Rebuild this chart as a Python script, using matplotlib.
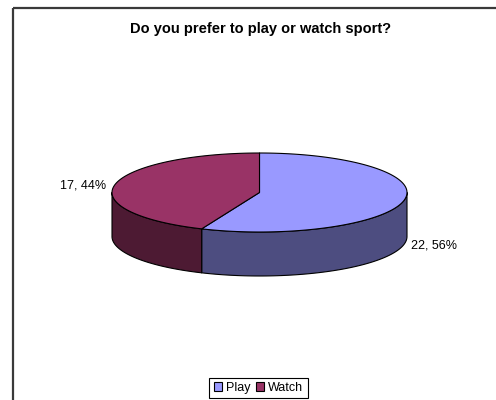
import numpy as np
import matplotlib.pyplot as plt
from matplotlib.patches import Polygon, Patch

plt.rcParams['font.family'] = ['Liberation Sans', 'DejaVu Sans']

# survey answers
labels = ['Play', 'Watch']
counts = [22, 17]
top_cols = ['#9999FF', '#993366']
side_cols = ['#4D4D80', '#4D1A33']

title = 'Do you prefer to play or watch sport?'

W, H = 496, 400
fig = plt.figure(figsize=(W / 100, H / 100), dpi=100)
ax = fig.add_axes([0, 0, 1, 1])
ax.set_xlim(0, W)
ax.set_ylim(H, 0)
ax.axis('off')

# chart frame (only top and left edges fall inside the image)
ax.plot([13, W + 5], [8, 8], color='#3a3a3a', lw=1.6, solid_capstyle='butt')
ax.plot([13, 13], [8, H + 5], color='#3a3a3a', lw=1.6, solid_capstyle='butt')

ax.text(261, 29, title, ha='center', va='center', fontsize=10.5, fontweight='bold')

# 3d pie geometry in pixels
cx, cy = 259.5, 192.5
a, b = 147.5, 39.5
depth = 44

def pt(theta_deg, dy=0):
    t = np.radians(theta_deg)
    return cx + a * np.cos(t), cy - b * np.sin(t) + dy

fracs = np.array(counts) / sum(counts)
# slices run clockwise from 12 o'clock
starts = 90 - np.concatenate([[0], np.cumsum(fracs)[:-1]]) * 360
ends = starts - fracs * 360

edge = dict(edgecolor='black', linewidth=0.8, joinstyle='round')

# side walls: only the front half of the rim (180..360 deg) is visible
for s, e, sc in zip(starts, ends, side_cols):
    lo, hi = e % 360, s % 360
    if hi <= lo:
        hi += 360
    lo2, hi2 = max(lo, 180), min(hi, 360)
    if lo2 >= hi2:
        lo2, hi2 = max(lo - 360, 180), min(hi - 360, 360)
        if lo2 >= hi2:
            continue
    th = np.linspace(lo2, hi2, 80)
    top = [pt(t) for t in th]
    bot = [pt(t, depth) for t in th[::-1]]
    ax.add_patch(Polygon(top + bot, closed=True, facecolor=sc, **edge))

# top faces
for s, e, tc in zip(starts, ends, top_cols):
    th = np.linspace(s, e, 200)
    verts = [(cx, cy)] + [pt(t) for t in th]
    ax.add_patch(Polygon(verts, closed=True, facecolor=tc, **edge))

# data labels "value, percent"
for s, e, n, f in zip(starts, ends, counts, fracs):
    mid = (s + e) / 2
    x, y = pt(mid)
    if np.sin(np.radians(mid)) < 0:
        y += depth
    ha = 'left' if np.cos(np.radians(mid)) > 0 else 'right'
    x += 7 if ha == 'left' else -9
    ax.text(x, y + 1, f'{n}, {f * 100:.0f}%', ha=ha, va='center', fontsize=9)

handles = [Patch(facecolor=c, edgecolor='black', linewidth=0.8) for c in top_cols]
leg = fig.legend(handles, labels, ncol=2, loc='upper center',
                 bbox_to_anchor=(258.5 / W, 1 - 377.5 / H), fontsize=9,
                 fancybox=False, edgecolor='black', framealpha=1,
                 handlelength=0.65, handleheight=0.65, handletextpad=0.3,
                 columnspacing=0.5, borderpad=0.35, borderaxespad=0)
leg.get_frame().set_linewidth(0.8)

fig.savefig('out.png', dpi=100, facecolor='white')
